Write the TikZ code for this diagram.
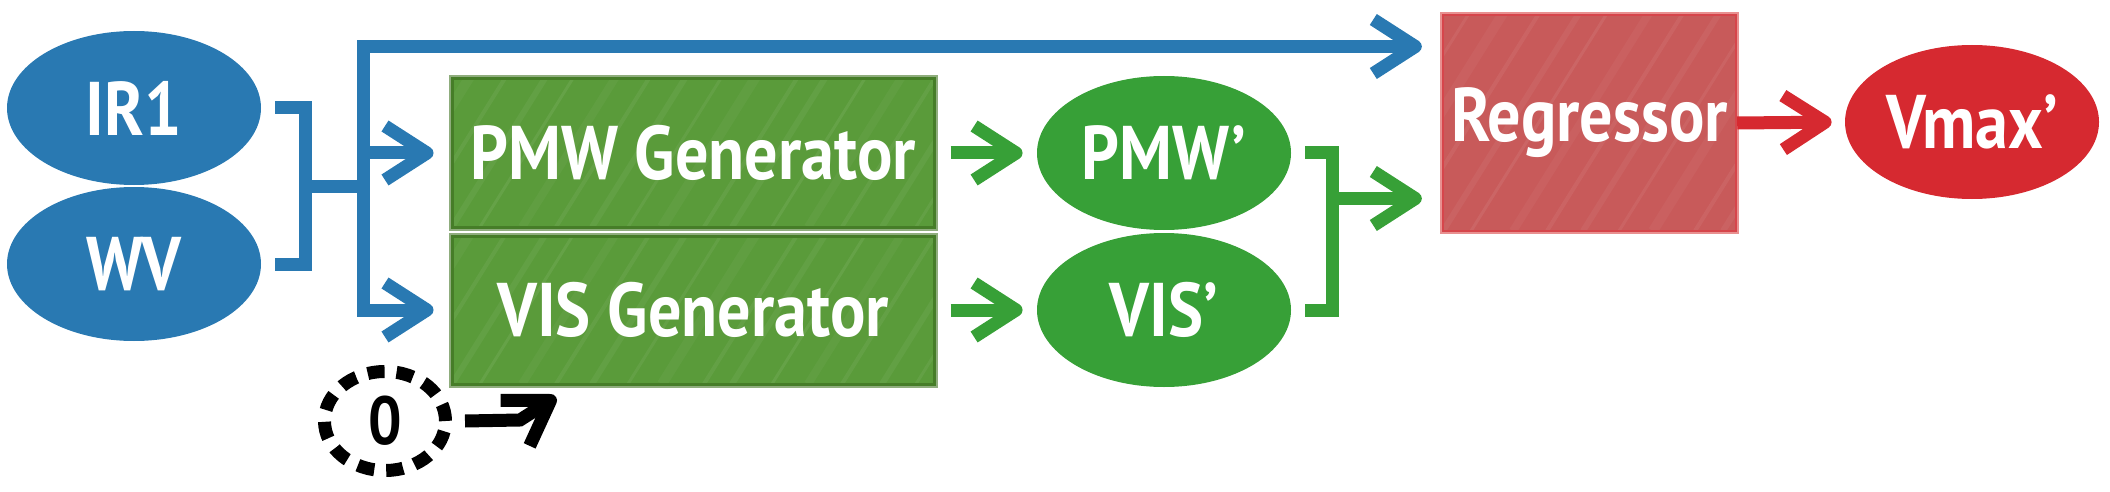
\documentclass[tikz,border=0pt]{standalone}
\usepackage{fontspec}
\newfontfamily\sk[FakeStretch=0.87]{PT Sans}
\usetikzlibrary{arrows.meta,shapes.geometric}
\definecolor{cblue}{HTML}{2979B2}
\definecolor{cgreen}{HTML}{37A037}
\definecolor{cred}{HTML}{D62930}
\definecolor{genfill}{HTML}{5A9B3A}
\definecolor{gendark}{HTML}{467D28}
\definecolor{genlight}{HTML}{8FAD7D}
\definecolor{regfill}{HTML}{C85A5A}
\definecolor{regdark}{HTML}{D6454B}
\definecolor{reglight}{HTML}{E89090}
\tikzset{
  lbl/.style={font=\sk\bfseries\fontsize{38}{40}\selectfont, text=white},
  ell/.style={ellipse, minimum width=127pt, minimum height=77pt, inner sep=0pt, lbl},
  blueell/.style={ell, fill=cblue},
  greenell/.style={ell, fill=cgreen},
  redell/.style={ell, fill=cred},
  streaks/.style={path picture={
      \foreach \i/\w/\o in {-150/3/0.06,-128/1.5/0.05,-112/4/0.04,-95/2/0.07,-70/3/0.05,-55/1.5/0.06,
                            -38/5/0.04,-20/2/0.06,0/3/0.05,14/1.5/0.07,35/4/0.04,52/2/0.06,
                            70/3/0.05,88/1.5/0.06,105/5/0.04,126/2/0.06,140/3/0.05,160/1.5/0.07,
                            178/4/0.04,195/2/0.06,215/3/0.05,232/1.5/0.06,250/4/0.04} {
        \draw[white, opacity=\o, line width=\w pt]
          ([xshift=\i pt]path picture bounding box.south west) -- ++(58:260pt);
      }}},
  genbox/.style={rectangle, minimum width=241pt, minimum height=74pt, inner sep=0pt,
    fill=genfill, draw=gendark, line width=1.5pt,
    preaction={draw=genlight, line width=3.5pt}, streaks, lbl},
  regbox/.style={rectangle, minimum width=146.5pt, minimum height=108pt, inner sep=0pt,
    fill=regfill, draw=regdark, line width=1.2pt,
    preaction={draw=reglight, line width=3pt}, streaks, lbl},
  tip/.style={-{Straight Barb[length=21pt,width=27pt,line join=round,line cap=butt]}},
  bline/.style={draw=cblue, line width=6.5pt, line join=miter},
  gline/.style={draw=cgreen, line width=6.5pt, line join=miter},
  bconn/.style={bline, tip},
  gconn/.style={gline, tip},
  rconn/.style={draw=cred, line width=6.5pt, tip},
  kconn/.style={draw=black, line width=6.5pt, line join=miter, tip},
  zero/.style={ellipse, minimum width=60.5pt, minimum height=49.5pt, inner sep=0pt,
    draw=black, line width=6.5pt, dash pattern=on 8.5pt off 6pt,
    font=\sk\bfseries\fontsize{34}{36}\selectfont, text=black}
}
\begin{document}
\begin{tikzpicture}[x=0.5pt,y=-0.5pt]
\useasboundingbox (0,0) rectangle (2110,492);

% nodes
\node[blueell] (IRI) at (134,108) {IR1};
\node[blueell] (WV) at (134,264) {WV};
\node[genbox] (PG) at (693,153) {PMW Generator};
\node[genbox] (VG) at (693,310) {VIS Generator};
\node[greenell] (PW) at (1164,153) {PMW’};
\node[greenell] (VW) at (1164,310) {VIS’};
\node[regbox] (Reg) at (1589.5,123) {Regressor};
\node[redell] (VM) at (1972,122) {Vmax’};
\node[zero] (Z) at (385,421) {0};

% junction coordinates
\coordinate (bj) at (305,186.5);
\coordinate (trunk) at (363.5,186.5);
\coordinate (top) at (363.5,46.5);
\coordinate (gj) at (1332.5,198.5);
\coordinate (bend) at (520,420);
\coordinate (ztip) at (556,397);

% blue connectors
\draw[bline] ([xshift=7pt]IRI.east) -| (bj) |- ([xshift=7pt]WV.east);
\draw[bline] (bj) -- (trunk);
\draw[bconn, shorten >=10pt] (trunk) -- (top) -- (Reg.west |- top);
\draw[bconn, shorten >=8.5pt] (trunk) |- (PG.west);
\draw[bconn, shorten >=8.5pt] (trunk) |- (VG.west);

% green connectors
\draw[gconn, shorten <=7.5pt, shorten >=7pt] (PG.east) -- (PW.west);
\draw[gconn, shorten <=7.5pt, shorten >=7pt] (VG.east) -- (VW.west);
\draw[gline] ([xshift=7pt]PW.east) -| (gj) |- ([xshift=7pt]VW.east);
\draw[gconn, shorten >=10pt] (gj) -- (Reg.west |- gj);

% red connector
\draw[rconn, shorten >=6.5pt] (Reg.east) -- (VM.west);

% black arrow from zero
\draw[kconn] ([xshift=6.5pt]Z.east) -- (bend) -- (ztip);
\end{tikzpicture}
\end{document}
